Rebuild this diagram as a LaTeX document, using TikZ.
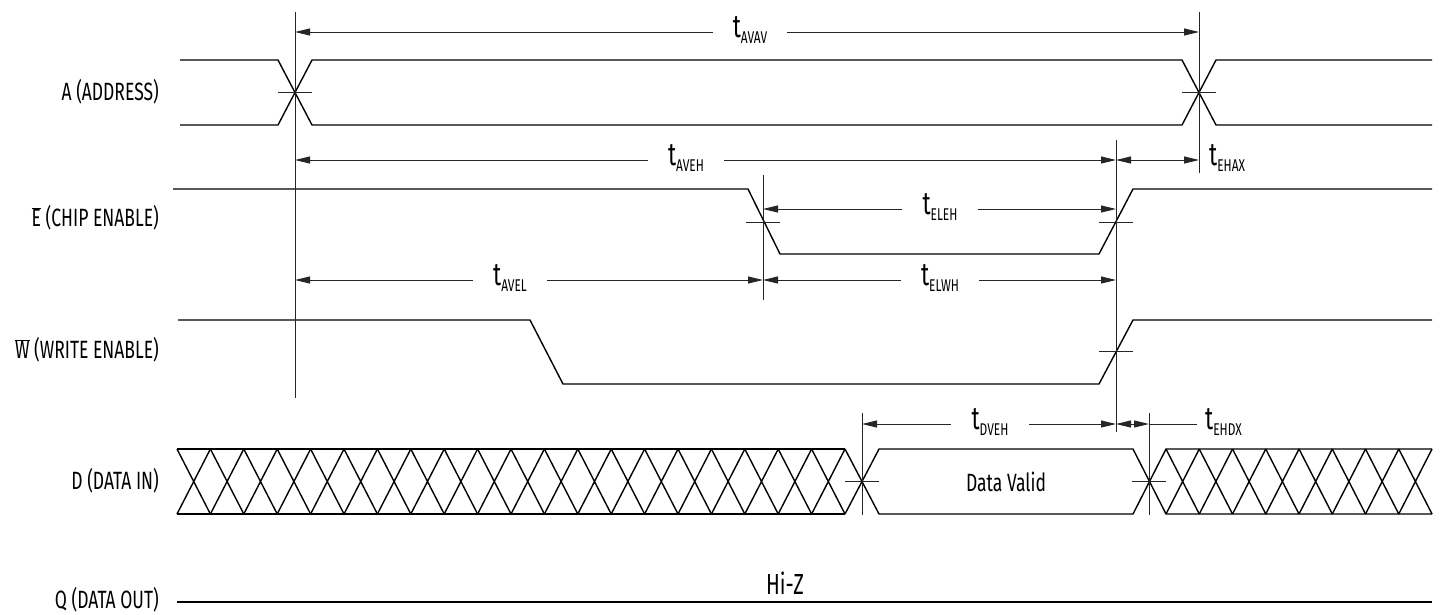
\documentclass[tikz,border=0pt]{standalone}
\usepackage{fontspec}
\setmainfont[FakeStretch=0.7]{Fira Sans}
\usetikzlibrary{arrows.meta}
\newcommand\tlab[1]{{\fontsize{32}{32}\selectfont t}{\fontsize{17}{17}\selectfont\raisebox{-6pt}{#1}}}
\begin{document}
\begin{tikzpicture}[x=1pt,y=-1pt,
  sig/.style={line width=1.4pt,line join=round},
  refl/.style={line width=1pt,black!85},
  tick/.style={line width=1pt,black!85},
  dimr/.style={line width=1pt,black!85,-{Triangle[length=15pt,width=7pt]}},
  dimb/.style={line width=1pt,black!85,{Triangle[length=15pt,width=7pt]}-{Triangle[length=15pt,width=7pt]}},
  tl/.style={inner xsep=20pt,inner ysep=0pt,anchor=center},
  siglab/.style={anchor=east,font=\fontsize{25}{25}\selectfont,inner sep=0pt}]
\useasboundingbox (0,0) rectangle (1442,614);
% ---------- signal labels
\node[siglab] (la) at (159,92) {A (ADDRESS)};
\node[siglab] (le) at (159,218) {$\overline{\mbox{E}}$ (CHIP ENABLE)};
\node[siglab] (lw) at (159,350) {$\overline{\mbox{W}}$ (WRITE ENABLE)};
\node[siglab] (ld) at (159,481) {D (DATA IN)};
\node[siglab] (lq) at (159,600) {Q (DATA OUT)};
% ---------- A (ADDRESS)
\draw[sig] (180,60) -- (278,60) -- (312,125) -- (1182,125) -- (1216,60) -- (1432,60);
\draw[sig] (180,125) -- (278,125) -- (312,60) -- (1182,60) -- (1216,125) -- (1432,125);
% ---------- E (CHIP ENABLE)
\draw[sig] (173,189) -- (748,189) -- (780,254) -- (1099,254) -- (1133,189) -- (1432,189);
% ---------- W (WRITE ENABLE)
\draw[sig] (178,320) -- (530,320) -- (563,384) -- (1099,384) -- (1133,320) -- (1432,320);
% ---------- D (DATA IN)
\draw[sig] (177,449) -- (845,449) (177,514) -- (845,514);
\foreach \k in {0,...,19}{
  \pgfmathsetmacro\xa{177+33.4*\k}
  \pgfmathsetmacro\xb{177+33.4*(\k+1)}
  \draw[sig] (\xa,449) -- (\xb,514) (\xa,514) -- (\xb,449);
}
\draw[sig] (845,449) -- (879,514) -- (1133,514) -- (1166,449) -- (1432,449);
\draw[sig] (845,514) -- (879,449) -- (1133,449) -- (1166,514) -- (1432,514);
\foreach \k in {0,...,7}{
  \pgfmathsetmacro\xa{1166+33.25*\k}
  \pgfmathsetmacro\xb{1166+33.25*(\k+1)}
  \draw[sig] (\xa,449) -- (\xb,514) (\xa,514) -- (\xb,449);
}
\node[font=\fontsize{25}{25}\selectfont] (dv) at (1006,482) {Data Valid};
% ---------- Q (DATA OUT)
\draw[sig] (177,602) -- (1432,602);
\node[font=\fontsize{29}{29}\selectfont] (hiz) at (785,583) {Hi-Z};
% ---------- reference lines
\draw[refl] (295,12) -- (295,398);
\draw[refl] (1199,12) -- (1199,173);
\draw[refl] (763,175) -- (763,300);
\draw[refl] (1116,140) -- (1116,432);
\draw[refl] (862,413) -- (862,515);
\draw[refl] (1149,413) -- (1149,515);
% crosshair ticks
\draw[tick] (278,92) -- (312,92);
\draw[tick] (1182,92) -- (1216,92);
\draw[tick] (746,222) -- (780,222);
\draw[tick] (1099,222) -- (1133,222);
\draw[tick] (1099,351) -- (1133,351);
\draw[tick] (845,481) -- (879,481);
\draw[tick] (1132,481) -- (1166,481);
% ---------- dimension arrows
% tAVAV
\coordinate (avav1) at (295,32); \coordinate (avav2) at (1199,32);
\node[tl] (tavav) at (750,30) {\tlab{AVAV}};
\draw[dimr] (tavav.west|-avav1) -- (avav1);
\draw[dimr] (tavav.east|-avav1) -- (avav2);
% tAVEH
\coordinate (aveh1) at (295,160); \coordinate (aveh2) at (1116,160);
\node[tl] (taveh) at (686,158) {\tlab{AVEH}};
\draw[dimr] (taveh.west|-aveh1) -- (aveh1);
\draw[dimr] (taveh.east|-aveh1) -- (aveh2);
% tEHAX
\coordinate (ehax2) at (1199,160);
\draw[dimb] (aveh2) -- (ehax2);
\node[anchor=west,inner sep=0pt] (tehax) at (1209,158) {\tlab{EHAX}};
% tELEH
\coordinate (eleh1) at (763,209); \coordinate (eleh2) at (1116,209);
\node[tl] (teleh) at (940,207) {\tlab{ELEH}};
\draw[dimr] (teleh.west|-eleh1) -- (eleh1);
\draw[dimr] (teleh.east|-eleh1) -- (eleh2);
% tAVEL
\coordinate (avel1) at (295,280); \coordinate (avel2) at (763,280);
\node[tl] (tavel) at (510,278) {\tlab{AVEL}};
\draw[dimr] (tavel.west|-avel1) -- (avel1);
\draw[dimr] (tavel.east|-avel1) -- (avel2);
% tELWH
\coordinate (elwh2) at (1116,280);
\node[tl] (telwh) at (940,278) {\tlab{ELWH}};
\draw[dimr] (telwh.west|-avel2) -- (avel2);
\draw[dimr] (telwh.east|-avel2) -- (elwh2);
% tDVEH
\coordinate (dveh1) at (862,424); \coordinate (dveh2) at (1116,424);
\node[tl] (tdveh) at (990,422) {\tlab{DVEH}};
\draw[dimr] (tdveh.west|-dveh1) -- (dveh1);
\draw[dimr] (tdveh.east|-dveh1) -- (dveh2);
% tEHDX
\coordinate (ehdx2) at (1149,424);
\draw[dimb] (dveh2) -- (ehdx2);
\node[anchor=west,inner sep=0pt] (tehdx) at (1205,422) {\tlab{EHDX}};
\draw[refl] (ehdx2) -- ([xshift=-8pt]tehdx.west|-ehdx2);
\end{tikzpicture}
\end{document}
